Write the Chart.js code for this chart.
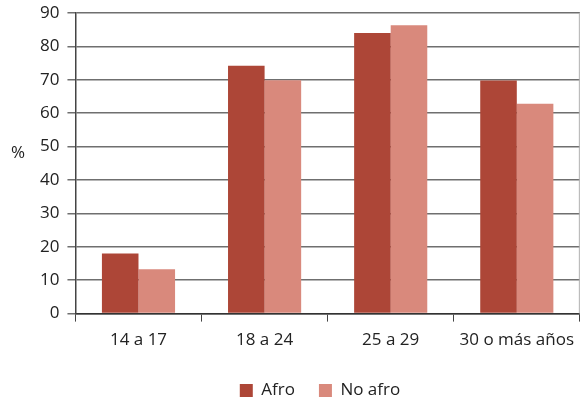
<!DOCTYPE html>
<html>
<head>
<meta charset="utf-8">
<script src="https://cdn.jsdelivr.net/npm/chart.js@4.4.0/dist/chart.umd.min.js"></script>
<style>
  html, body { margin: 0; padding: 0; background: #fff; }
  #wrap { width: 582px; height: 399px; position: relative; }
</style>
</head>
<body>
<div id="wrap"><canvas id="myChart"></canvas></div>
<script>
// Datos del gráfico
const categorias = ['14 a 17', '18 a 24', '25 a 29', '30 o más años'];
const valoresAfro = [18, 74.2, 84, 69.8];
const valoresNoAfro = [13.3, 69.9, 86.3, 62.8];
const ticksY = [0, 10, 20, 30, 40, 50, 60, 70, 80, 90];

const colorAfro = '#ad4637';
const colorNoAfro = '#d9897c';
const fuente = "'Open Sans', 'Noto Sans', sans-serif";

// Plugin para la etiqueta "%", el borde derecho y centrar la leyenda
const extras = {
    id: 'extras',
    afterLayout(chart) {
        if (chart.legend) {
            chart.legend.left += 13;
            chart.legend.right += 13;
        }
    },
    afterDraw(chart) {
        const { ctx, chartArea } = chart;
        ctx.save();
        ctx.fillStyle = '#222';
        ctx.font = `17px ${fuente}`;
        ctx.textAlign = 'center';
        ctx.textBaseline = 'middle';
        ctx.fillText('%', 18, chart.scales.y.getPixelForValue(48));
        ctx.strokeStyle = '#b0b0b0';
        ctx.lineWidth = 1;
        ctx.beginPath();
        ctx.moveTo(chartArea.right - 0.5, chartArea.top);
        ctx.lineTo(chartArea.right - 0.5, chartArea.bottom);
        ctx.stroke();
        ctx.restore();
    }
};

const config = {
    type: 'bar',
    data: {
        labels: categorias,
        datasets: [
            {
                label: 'Afro',
                data: valoresAfro,
                backgroundColor: colorAfro,
                categoryPercentage: 0.58,
                barPercentage: 1
            },
            {
                label: 'No afro',
                data: valoresNoAfro,
                backgroundColor: colorNoAfro,
                categoryPercentage: 0.58,
                barPercentage: 1
            }
        ]
    },
    options: {
        responsive: true,
        maintainAspectRatio: false,
        animation: false,
        layout: {
            padding: { top: 0, right: 0, bottom: -10, left: 32 }
        },
        plugins: {
            legend: {
                position: 'bottom',
                labels: {
                    boxWidth: 13,
                    boxHeight: 13,
                    padding: 24,
                    color: '#222',
                    font: { family: fuente, size: 17 }
                }
            },
            tooltip: { enabled: false }
        },
        scales: {
            x: {
                grid: {
                    offset: true,
                    drawOnChartArea: false,
                    drawTicks: true,
                    tickLength: 8,
                    color: '#444'
                },
                border: { color: '#333', width: 1.5 },
                ticks: {
                    color: '#222',
                    padding: 8,
                    font: { family: fuente, size: 17 }
                }
            },
            y: {
                min: 0,
                max: 90,
                afterBuildTicks(scale) {
                    scale.ticks = ticksY.map(v => ({ value: v }));
                },
                afterFit(scale) {
                    scale.paddingTop = 13;
                },
                grid: {
                    color: '#6f6f6f',
                    lineWidth: 1.5,
                    tickLength: 8
                },
                border: { color: '#444', width: 1.5 },
                ticks: {
                    color: '#222',
                    padding: 8,
                    font: { family: fuente, size: 17 }
                }
            }
        }
    },
    plugins: [extras]
};

new Chart(document.getElementById('myChart'), config);
</script>
</body>
</html>
